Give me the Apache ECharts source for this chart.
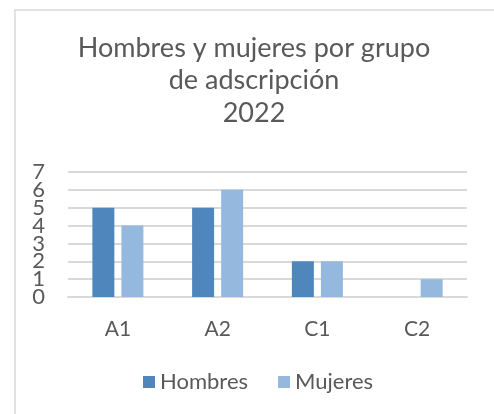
<!DOCTYPE html>
<html>
<head>
<meta charset="utf-8">
<script src="https://cdn.jsdelivr.net/npm/echarts@6/dist/echarts.min.js"></script>
<style>
  html, body { margin: 0; padding: 0; background: #fff; }
  #chart { width: 494px; height: 414px; }
</style>
</head>
<body>
<div id="chart"></div>
<script>
const categories = ['A1', 'A2', 'C1', 'C2'];
const hombres = [5, 5, 2, 0];
const mujeres = [4, 6, 2, 1];
const yTicks = [0, 1, 2, 3, 4, 5, 6, 7];

const textColor = '#595959';
const gridColor = '#D9D9D9';
const font = 'Lato';

const chart = echarts.init(document.getElementById('chart'));

// Etiquetas del eje Y muy juntas: se reparten entre dos ejes superpuestos
// (pares / impares) para que ECharts no oculte ninguna.
function yAxisFor(parity, withGrid) {
  return {
    type: 'value',
    position: 'left',
    min: yTicks[0],
    max: yTicks[yTicks.length - 1],
    interval: 1,
    axisLine: { show: false },
    axisTick: { show: false },
    splitLine: { show: withGrid, lineStyle: { color: gridColor, width: 2 } },
    axisLabel: {
      margin: 23,
      showMinLabel: true,
      showMaxLabel: true,
      fontFamily: font,
      fontSize: 22,
      color: textColor,
      formatter: v => (v % 2 === parity ? String(v) : '')
    }
  };
}

chart.setOption({
  animation: false,
  backgroundColor: '#fff',
  title: {
    text: 'Hombres y mujeres por grupo\nde adscripción\n2022',
    left: 254,
    top: 32,
    padding: 0,
    textAlign: 'center',
    textStyle: {
      fontFamily: font,
      fontSize: 27,
      fontWeight: 'normal',
      color: textColor,
      lineHeight: 32.5
    }
  },
  graphic: [
    { type: 'line', shape: { x1: 15, y1: 10, x2: 15, y2: 414 }, style: { stroke: gridColor, lineWidth: 1.5 } },
    { type: 'line', shape: { x1: 14, y1: 10, x2: 494, y2: 10 }, style: { stroke: gridColor, lineWidth: 1.5 } }
  ],
  legend: {
    left: 143,
    top: 371,
    padding: 0,
    icon: 'rect',
    itemWidth: 12,
    itemHeight: 12,
    itemGap: 30,
    textStyle: { fontFamily: font, fontSize: 22, color: textColor }
  },
  grid: { left: 68, right: 27, top: 172, bottom: 117 },
  xAxis: {
    type: 'category',
    data: categories,
    axisLine: { lineStyle: { color: gridColor, width: 2 } },
    axisTick: { show: false },
    axisLabel: { fontFamily: font, fontSize: 21, color: textColor, margin: 22 }
  },
  yAxis: [yAxisFor(0, true), yAxisFor(1, false)],
  series: [
    {
      name: 'Hombres',
      type: 'bar',
      data: hombres,
      barWidth: 22,
      barGap: '32%',
      itemStyle: { color: '#4F87BC' }
    },
    {
      name: 'Mujeres',
      type: 'bar',
      data: mujeres,
      barWidth: 22,
      itemStyle: { color: '#95B8DF' }
    }
  ]
});
</script>
</body>
</html>
